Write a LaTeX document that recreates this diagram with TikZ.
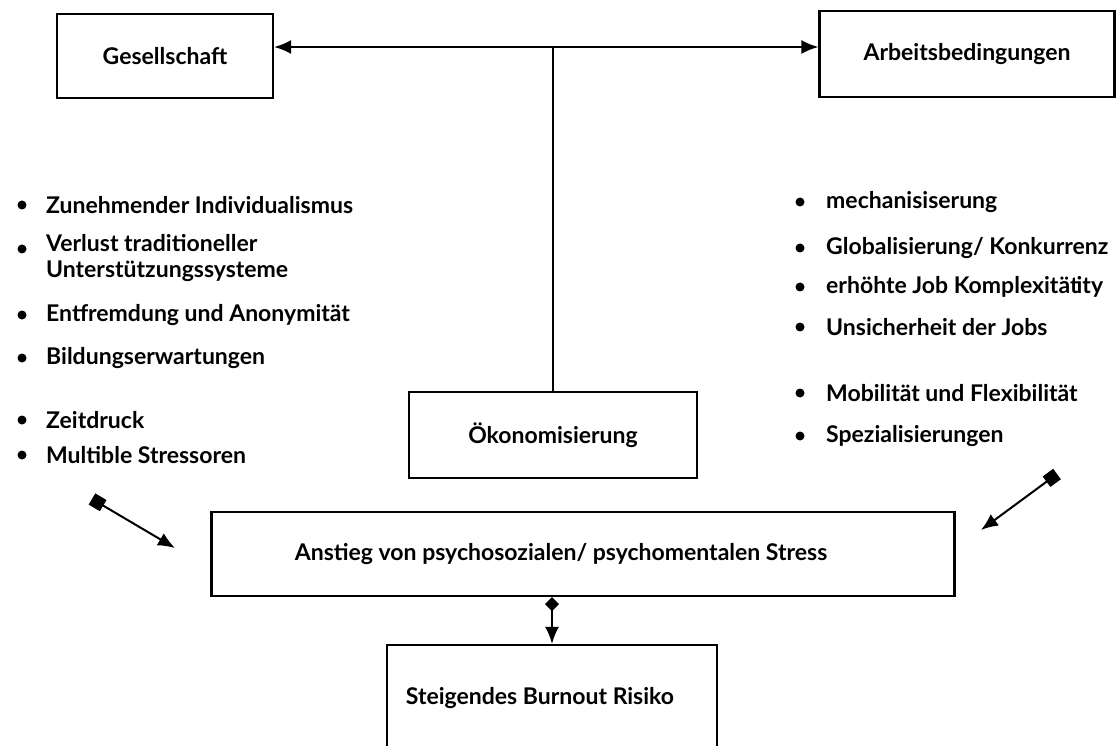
\documentclass[tikz,border=0pt]{standalone}
\usepackage{fontspec}
\setmainfont{Lato}
\usetikzlibrary{arrows.meta,positioning,calc}

\begin{document}
\begin{tikzpicture}[>={Latex[length=17pt,width=14pt]},x=1pt,y=-1pt,font=\fontsize{23}{26}\selectfont\bfseries,
  box/.style={draw,line width=2.2pt},
  item/.style={anchor=west,align=left,inner sep=0pt},
  conn/.style={line width=2pt}]
\useasboundingbox (0,0) rectangle (1117,746);
% boxes
\node[box,minimum width=216pt,minimum height=84pt] (ges) at (165,56) {Gesellschaft};
\node[box,minimum width=295pt,minimum height=86pt] (arb) at (967,54) {Arbeitsbedingungen};
\node[box,minimum width=288pt,minimum height=86pt] (oek) at (553,435) {Ökonomisierung};
\node[box,minimum width=743pt,minimum height=84pt,label={[xshift=-22pt]center:Anstieg von psychosozialen/ psychomentalen Stress}] (str) at (583,554) {};
\node[box,minimum width=330pt,minimum height=116pt,label={[xshift=-12pt,yshift=5pt]center:Steigendes Burnout Risiko}] (burn) at (552,703) {};
\coordinate (hub) at (553,47);
\draw[conn,<->] (ges.east |- hub) -- (arb.west |- hub);
\draw[conn] (hub) -- (oek.north);
\draw[conn,{Diamond[length=14pt,width=14pt]}->] (str.south -| burn.north) -- (burn.north);
% left list
\foreach \n/\y/\t in {l1/205/Zunehmender Individualismus,l3/315/Entfremdung und Anonymität,l4/358/Bildungserwartungen,l5/420/Zeitdruck,l6/455/Multible Stressoren}{
  \fill (22,\y) circle (4.5);
  \node[item] (\n) at (46,\y) {\t};}
\fill (22,249) circle (4.5);
\node[item,anchor=north west] (l2) at (46,234) {Verlust traditioneller\\Unterstützungssysteme};
% right list
\foreach \n/\y/\t in {r1/202/mechanisiserung,r2/248/{Globalisierung/ Konkurrenz},r3/287/erhöhte Job Komplexität{\kern-2pt}ity,r4/327/Unsicherheit der Jobs,r5/393/Mobilität und Flexibilität,r6/436/Spezialisierungen}{
  \fill (800,\y) circle (4.5);
  \node[item] (\n) at (826,\y) {\t};}
% side arrows
\coordinate (ls) at (92,499); \coordinate (lt) at (175,548);
\coordinate (rs) at (1057,474); \coordinate (rt) at (981,530);
\draw[conn,{Square[length=13pt,width=13pt]}->] (ls) -- (lt);
\draw[conn,{Square[length=13pt,width=13pt]}->] (rs) -- (rt);
\end{tikzpicture}
\end{document}
